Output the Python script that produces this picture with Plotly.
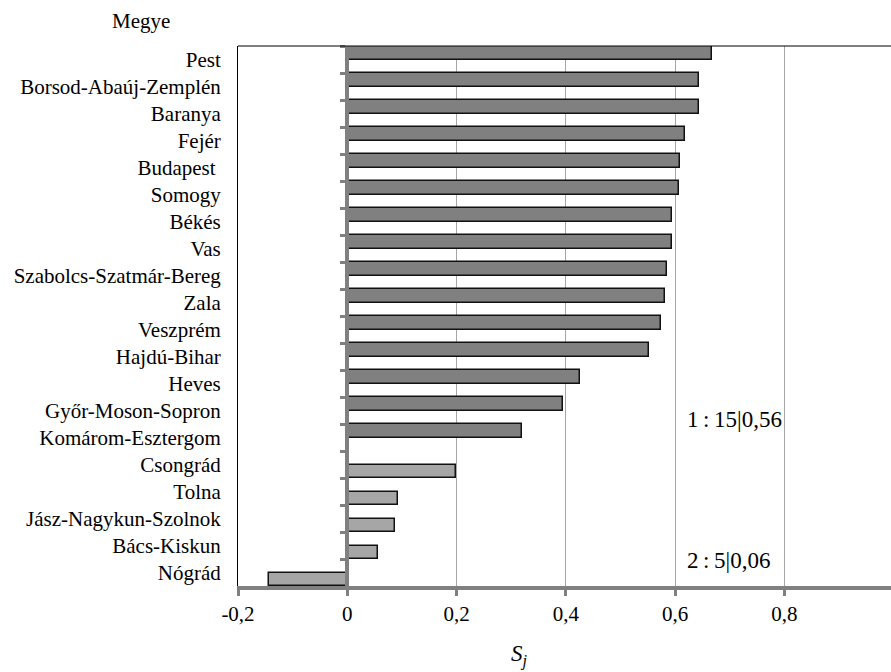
import plotly.graph_objects as go

# County names (top to bottom) and their S_j values
counties = [
    "Pest", "Borsod-Abaúj-Zemplén", "Baranya", "Fejér", "Budapest ",
    "Somogy", "Békés", "Vas", "Szabolcs-Szatmár-Bereg", "Zala",
    "Veszprém", "Hajdú-Bihar", "Heves", "Győr-Moson-Sopron",
    "Komárom-Esztergom", "Csongrád", "Tolna", "Jász-Nagykun-Szolnok",
    "Bács-Kiskun", "Nógrád",
]
group1_values = [0.667, 0.643, 0.643, 0.618, 0.608, 0.607, 0.594, 0.594,
                 0.585, 0.582, 0.575, 0.553, 0.425, 0.395, 0.319,
                 None, None, None, None, None]
group2_values = [None] * 15 + [0.199, 0.093, 0.087, 0.057, -0.143]

x_tickvals = [-0.2, 0, 0.2, 0.4, 0.6, 0.8]
x_ticktext = ["-0,2", "0", "0,2", "0,4", "0,6", "0,8"]

FONT = "Liberation Serif"
AXIS_GREY = "#808080"
x_range = [-0.2, 0.995]
n = len(counties)
y_range = [n - 0.5, -0.5]

fig = go.Figure()
fig.add_trace(go.Bar(
    y=counties, x=group1_values, orientation="h", name="1",
    marker=dict(color="#808080", line=dict(color="#111111", width=1.5)),
    showlegend=False,
))
fig.add_trace(go.Bar(
    y=counties, x=group2_values, orientation="h", name="2",
    marker=dict(color="#a6a6a6", line=dict(color="#111111", width=1.5)),
    showlegend=False,
))
# helper trace so the axis through zero carries the category boundaries
fig.add_trace(go.Scatter(
    y=counties, x=[0] * n, mode="markers", marker=dict(opacity=0),
    yaxis="y2", hoverinfo="skip", showlegend=False,
))

zero_pos = (0 - x_range[0]) / (x_range[1] - x_range[0])

fig.update_layout(
    width=891, height=672,
    margin=dict(l=238, r=0, t=46, b=86),
    paper_bgcolor="white", plot_bgcolor="white",
    font=dict(family=FONT, size=21, color="black"),
    barmode="group", bargap=0, bargroupgap=0,
    xaxis=dict(
        range=x_range, tickvals=x_tickvals, ticktext=x_ticktext,
        showgrid=True, gridcolor="#a6a6a6", gridwidth=1,
        zeroline=False, showline=True, linecolor=AXIS_GREY, linewidth=4,
        ticks="outside", ticklen=6, tickwidth=3, tickcolor=AXIS_GREY,
        tickfont=dict(family=FONT, size=21),
    ),
    yaxis=dict(
        type="category", categoryorder="array", categoryarray=counties,
        range=y_range, showgrid=False, zeroline=False,
        showline=True, linecolor="black", linewidth=1,
        ticks="", ticklabelstandoff=12, tickfont=dict(family=FONT, size=21),
    ),
    yaxis2=dict(
        type="category", categoryorder="array", categoryarray=counties,
        range=y_range, overlaying="y", anchor="free", position=zero_pos,
        side="left", showgrid=False, zeroline=False,
        showline=True, linecolor=AXIS_GREY, linewidth=4,
        ticks="outside", tickson="boundaries", ticklen=5, tickwidth=3,
        tickcolor=AXIS_GREY, showticklabels=False,
    ),
    shapes=[
        dict(type="line", xref="paper", yref="paper", x0=0, x1=1, y0=1, y1=1,
             line=dict(color="black", width=1)),
    ],
    annotations=[
        dict(text="Megye", xref="paper", yref="paper", x=-0.1485, y=1.046,
             showarrow=False, xanchor="center", yanchor="middle",
             font=dict(family=FONT, size=21)),
        dict(text="<i>S</i><sub><i>j</i></sub>", xref="x", yref="paper",
             x=0.316, y=-0.128, showarrow=False, xanchor="center",
             yanchor="middle", font=dict(family=FONT, size=23)),
        dict(text="1\u2009:\u200915|0,56", xref="x", yref="y",
             x=0.618, y=13.35, showarrow=False, xanchor="left",
             yanchor="middle", font=dict(family=FONT, size=23)),
        dict(text="2\u2009:\u20095|0,06", xref="x", yref="y",
             x=0.618, y=18.55, showarrow=False, xanchor="left",
             yanchor="middle", font=dict(family=FONT, size=23)),
    ],
)

fig.write_html("out.html")
